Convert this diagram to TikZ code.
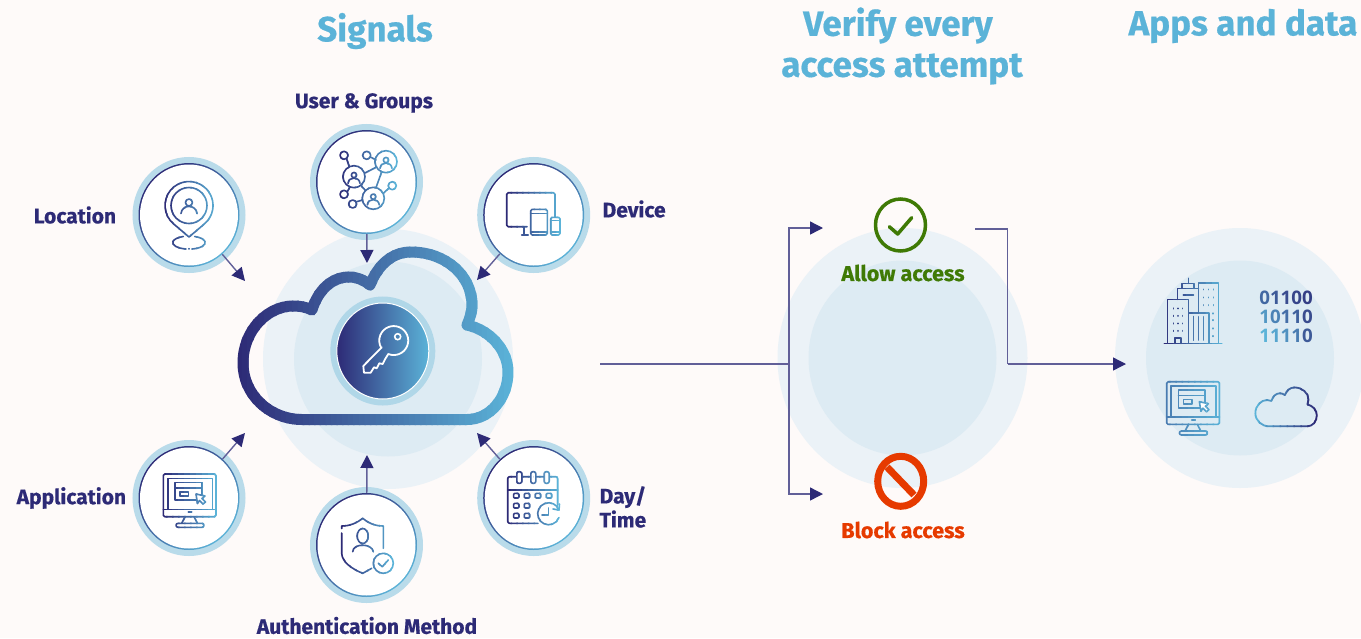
\documentclass[tikz,border=0pt]{standalone}
\usepackage{fontspec}
\setmainfont{Fira Sans}[BoldFeatures={FakeBold=0.5}]
\newfontfamily\digitfont{Open Sans}
\usetikzlibrary{positioning,shapes.geometric,arrows.meta}

\definecolor{pagebg}{HTML}{FEFAF9}
\definecolor{navy}{HTML}{2D2A76}
\definecolor{sky}{HTML}{5BB3D8}
\definecolor{ringblue}{HTML}{B9DBEA}
\definecolor{haloA}{HTML}{EBF2F7}
\definecolor{haloB}{HTML}{DDEBF3}
\definecolor{okgreen}{HTML}{3F7A05}
\definecolor{stopred}{HTML}{E63A00}

% draws #6 in vertical strips, colour going from #4 to #5 between x=#1 and x=#2
\newcommand{\gradstrips}[6]{%
    \foreach \stripno in {1,...,#3}{%
        \pgfmathsetmacro{\stripmix}{100*(\stripno-1)/(#3-1)}%
        \begin{scope}[color=#5!\stripmix!#4]
            \clip ({#1+(\stripno-1)*(#2-#1)/#3},0) rectangle ({#1+\stripno*(#2-#1)/#3+1.5},638);
            #6
        \end{scope}
    }%
}
\newcommand{\cloudline}{%
    (302,419.5) .. controls (270,419.5) and (243,395) .. (243,363)
    .. controls (243,330) and (268,306) .. (293,306)
    .. controls (300,306) and (306,307) .. (312,310)
    .. controls (318,290) and (332,277) .. (349,277)
    .. controls (357,277) and (364,280) .. (370,285)
    .. controls (378,265) and (392,252) .. (411,252)
    .. controls (445,252) and (472,275) .. (472,305)
    .. controls (472,312) and (470,318) .. (467,325)
    .. controls (490,330) and (508,350) .. (508,372)
    .. controls (508,398) and (490,419.5) .. (467,419.5) -- cycle}
\newcommand{\personmark}[3]{%
    \begin{scope}[shift={(#1,#2)},scale=#3]
        \draw (0,-3.5) circle (3.5);
        \draw (-8,7.5) .. controls (-7,-2) and (7,-2) .. (8,7.5);
    \end{scope}}
\newcommand{\screenicon}{%
    \draw[rounded corners=1.5] (163.3,474) rectangle (216,516.7);
    \draw (167.7,509.3) -- (167.7,478.3) -- (212.3,478.3) -- (212.3,509.3);
    \draw (163.3,509.3) -- (216,509.3);
    \draw (175,482.3) rectangle (201.7,500);
    \draw (175,487.7) -- (201.7,487.7);
    \draw (180,491.7) rectangle (188.3,496);
    \draw[fill=white] (196,494) -- (205,496) -- (202,498.5) -- (205.5,502) -- (203,504) -- (199.5,500.5) -- (197.5,503.5) -- cycle;
    \draw (188.3,512) -- (191.7,512);
    \draw (185,516.7) -- (181.7,523.3) (194,516.7) -- (197.3,523.3);
    \draw[rounded corners=2] (176,523.3) rectangle (204,527.3);}
\newcommand{\bitcol}[2]{\textcolor{sky!#1!navy}{#2}}

\begin{document}
\begin{tikzpicture}[
        x=1pt,y=1pt,yscale=-1,
        ring/.style={
                ellipse,
                inner sep=0pt,
                minimum width=101pt,
                minimum height=104pt,
                left color=navy,
                right color=sky,
                shading angle=45,
                preaction={draw=ringblue,line width=12pt},
                path picture={\fill[white] (path picture bounding box.center) ellipse (49 and 50.5);}
            },
        haloOuter/.style={ellipse,fill=haloA,minimum width=250pt,minimum height=260pt,inner sep=0pt},
        haloInner/.style={ellipse,fill=haloB,minimum width=188pt,minimum height=195pt,inner sep=0pt},
        keydisk/.style={
                ellipse,
                inner sep=0pt,
                minimum width=92pt,
                minimum height=96pt,
                left color=navy,
                right color=sky,
                draw=white,
                line width=1pt,
                preaction={draw=ringblue!90!sky,line width=13pt}
            },
        flow/.style={
                draw=navy!75,
                line width=1.4pt,
                -{Triangle[length=13pt,width=13pt,color=navy,fill=navy]}
            },
        wire/.style={draw=navy!75,line width=1.4pt},
        icon/.style={line width=1.6pt,line join=round,line cap=round},
        tag/.style={text=navy,font=\bfseries\fontsize{21}{24}\selectfont,align=center,inner sep=0pt},
        statetext/.style={font=\bfseries\fontsize{21.5}{24}\selectfont,inner sep=0pt},
        heading/.style={text=sky,font=\bfseries\fontsize{35}{41}\selectfont,align=center,inner sep=0pt},
        bits/.style={font=\digitfont\bfseries\fontsize{18.7}{20}\selectfont,inner sep=0pt}
    ]
    \useasboundingbox[fill=pagebg] (0,0) rectangle (1361,638);

    \node[heading] (signals) at (375,31) {Signals};
    \node[heading] (verify) at (902,46) {Verify every\hspace*{8pt}\\access attempt};
    \node[heading] (apps) at (1243,26) {Apps and data};

    \node[haloOuter] (signalsOuter) at (388,359) {};
    \node[haloInner] (signalsInner) at (388,359) {};
    \node[haloOuter] (verifyOuter) at (902.5,358) {};
    \node[haloInner] (verifyInner) at (902.5,358) {};
    \node[haloOuter] (appsOuter) at (1240,358) {};
    \node[haloInner] (appsInner) at (1240,358) {};

    % big cloud
    \gradstrips{236}{515}{50}{navy}{sky}{\draw[line width=11pt,line join=round] \cloudline;}

    \node[keydisk] (key) at (382.8,351) {};
    \draw[white,line width=1.8pt,line join=round] (381.7,347.3) -- (363.3,366) -- (364,372.7) -- (370.7,372.7) -- (374,367.3) -- (376.7,368.3) -- (379.3,363.3) -- (382.7,364) -- (385,359.3) -- (388.3,354) arc (112:-211:14.5) -- cycle;
    \draw[white,line width=1.6pt] (397.7,336.7) circle (3);

    \node[ring] (location) at (189,215) {};
    \node[ring] (user) at (366.5,182) {};
    \node[ring] (device) at (533.7,215) {};
    \node[ring] (application) at (189,498) {};
    \node[ring] (auth) at (366.5,545) {};
    \node[ring] (daytime) at (533.7,498) {};

    \node[tag] (locationText) [left=22pt of location] {Location};
    \node[tag] (userText) at (364,103) {User \& Groups};
    \node[tag] (deviceText) [right=18pt of device,yshift=6pt] {Device};
    \node[tag] (applicationText) [left=12pt of application] {Application};
    \node[tag] (authText) at (367,625.5) {Authentication Method};
    \node[tag] (daytimeText) [right=15pt of daytime,yshift=-9pt] {Day/\\Time};

    \coordinate (locationTip) at (245,281);
    \coordinate (userTip) at (367,263);
    \coordinate (deviceTip) at (477,280);
    \coordinate (applicationTip) at (245,433);
    \coordinate (authTip) at (367,455);
    \coordinate (daytimeTip) at (477,433);
    \draw[flow] (location) -- (locationTip);
    \draw[flow] (user) -- (userTip);
    \draw[flow] (device) -- (deviceTip);
    \draw[flow] (application) -- (applicationTip);
    \draw[flow] (auth) -- (authTip);
    \draw[flow] (daytime) -- (daytimeTip);

    % location
    \gradstrips{160}{220}{10}{navy}{sky}{
        \begin{scope}[icon]
            \draw (189,237) -- (173.6,223.9) arc (130:410:24) -- cycle;
            \draw (189,205.5) circle (18);
            \personmark{189}{206}{1}
            \draw (186,249) arc (100:250:16 and 6.5);
            \draw (192,249) arc (80:-70:16 and 6.5);
            \draw (189,248.6) -- (189,249);
        \end{scope}}

    % user and groups
    \gradstrips{335}{400}{10}{navy}{sky}{
        \begin{scope}[icon]
            \foreach \hx/\hy in {344/155.3,366.7/155.3,392.3/185.7,344/194.3,352.7/204}{
                \draw (\hx,\hy) circle (4);
            }
            \foreach \hx/\hy in {386/161.7,354/176.7,373.3/198.3}{
                \draw (\hx,\hy) circle (11);
                \personmark{\hx}{\hy+1}{0.75}
            }
            \draw (346.5,158.5) -- (349,166) (370.5,157) -- (376,160) (365,173) -- (376.6,167);
            \draw (361,185.5) -- (365.5,190.5) (381.7,171.7) -- (376,187.7) (383.3,193.3) -- (388.7,188.3);
            \draw (347.3,191.5) -- (350,187) (356.7,201.7) -- (362.5,200);
        \end{scope}}

    % device
    \gradstrips{505}{562}{10}{navy}{sky}{
        \begin{scope}[icon]
            \draw[rounded corners=1.5] (527,226.7) -- (506.7,226.7) -- (506.7,192.7) -- (555,192.7) -- (555,216.7);
            \draw (524,226.7) -- (524,235) (521.7,235) -- (528,235);
            \draw[rounded corners=1.5] (530.7,209.3) rectangle (547.3,235);
            \draw (530.7,213.3) -- (547.3,213.3) (530.7,231.7) -- (547.3,231.7);
            \draw[rounded corners=1.5] (550.7,217.3) rectangle (560,235);
            \draw (550.7,220.5) -- (560,220.5) (550.7,231.7) -- (560,231.7);
        \end{scope}}

    % application
    \gradstrips{160}{220}{10}{navy}{sky}{
        \begin{scope}[icon]
            \screenicon
        \end{scope}}

    % authentication
    \gradstrips{338}{396}{10}{navy}{sky}{
        \begin{scope}[icon]
            \draw (341.7,533) -- (341.7,553.3) .. controls (342,562) and (352,569) .. (362.7,573.3) -- (371.7,568.3);
            \draw (341.7,528.5) -- (341.7,526) .. controls (350,526) and (357,523) .. (362.7,518.3) .. controls (368,523) and (375,526) .. (383.3,526) -- (383.3,548.3);
            \draw (362.7,536) ellipse (5.5 and 7.5);
            \draw (352.7,551.7) .. controls (353,543) and (372,543) .. (373.3,551.7);
            \draw (383.3,563.3) circle (10);
            \draw (378.3,563.3) -- (382.3,566.7) -- (388.3,560);
        \end{scope}}

    % calendar
    \gradstrips{505}{562}{10}{navy}{sky}{
        \begin{scope}[icon]
            \draw[rounded corners=2] (538,523.3) -- (507.7,523.3) -- (507.7,476.7) -- (557.7,476.7) -- (557.7,505);
            \draw (507.7,490) -- (557.7,490);
            \foreach \kx in {519.3,533.3,546.7}{
                \draw[fill=white,rounded corners=2] (\kx-2.5,471.7) rectangle (\kx+2.5,483.3);
            }
            \foreach \kx/\ky in {516.3/495.7,527/495.7,538/495.7,549/495.7,516.3/505.7,527/505.7,516.3/515.7,527/515.7}{
                \draw[rounded corners=1] (\kx-2.7,\ky-2.3) rectangle (\kx+2.7,\ky+2.3);
            }
            \draw (559,510) arc (-20:-340:11);
            \draw (559.5,504) -- (559,510) -- (553,509);
            \draw (548.3,508) -- (548.3,515) -- (542,515);
        \end{scope}}

    % verify
    \node[ellipse,draw=okgreen,line width=3.5pt,minimum width=50pt,minimum height=52pt,inner sep=0pt] (allow) at (900.5,225) {};
    \draw[okgreen,line width=3.5pt,line cap=round,line join=round] (889.3,226.7) -- (897.7,234) -- (911.7,217.7);
    \node[statetext,text=okgreen] (allowText) at (903,273) {Allow access};
    \node[ellipse,draw=stopred,line width=7pt,minimum width=46pt,minimum height=50pt,inner sep=0pt] (block) at (900.7,481.3) {};
    \draw[stopred,line width=7pt] (887,467) -- (914,495);
    \node[statetext,text=stopred] (blockText) at (903,530) {Block access};

    \coordinate (verifyIn) at (600,364);
    \coordinate (split) at (789,364);
    \coordinate (allowTip) at (823,228);
    \coordinate (blockTip) at (823,494);
    \coordinate (allowOut) at (975,229);
    \coordinate (outTurn) at (1007.5,364);
    \coordinate (appsTip) at (1126,364);
    \draw[wire] (verifyIn) -- (split);
    \draw[flow] (split) |- (allowTip);
    \draw[flow] (split) |- (blockTip);
    \draw[wire] (allowOut) -| (outTurn);
    \draw[flow] (outTurn) -- (appsTip);

    % apps and data
    \gradstrips{1160}{1225}{10}{navy}{sky}{
        \begin{scope}[icon]
            \draw (1164.3,343.3) -- (1221.7,343.3);
            \draw (1167.3,343.3) rectangle (1188.3,299.3);
            \draw (1188.3,343.3) rectangle (1209,312.7);
            \draw (1198.3,312.7) -- (1198.3,282.7) -- (1218.3,282.7) -- (1218.3,343.3) -- (1209,343.3);
            \draw (1177.3,299.3) -- (1177.3,288.3) -- (1198.3,288.3);
            \draw (1181.7,288.3) -- (1181.7,283.3) -- (1194,283.3) -- (1194,288.3) (1188.3,283.3) -- (1188.3,278.3);
            \draw (1183.3,295) -- (1193.3,295);
            \foreach \wx in {1193.3,1198.3,1203.3}{
                \draw (\wx,316.7) -- (\wx,340);
            }
            \foreach \wx in {1173.3,1177.8,1182.3}{
                \foreach \wy in {308.3,315.7,323.3,330.7}{
                    \draw (\wx,\wy) -- (\wx,\wy+0.3);
                }
            }
            \foreach \wx in {1203.3,1208.3,1213.3}{
                \foreach \wy in {289.3,297.3,305}{
                    \draw (\wx,\wy) -- (\wx,\wy+0.3);
                }
            }
            \foreach \wy in {313.3,320,328.3,336}{
                \draw (1213,\wy) -- (1213,\wy+0.3);
            }
            \draw (1175,343.3) -- (1175,338) -- (1181,338) -- (1181,343.3);
        \end{scope}}
    \gradstrips{1163}{1225}{10}{navy!40!sky}{sky}{
        \begin{scope}[icon,shift={(1003.4,-92.3)}]
            \screenicon
        \end{scope}}
    \gradstrips{1252}{1321}{10}{sky}{navy}{
        \begin{scope}[shift={(1199,329)},scale=0.232]
            \draw[line width=1.8pt,line join=round] \cloudline;
        \end{scope}}
    \node[bits] (bitsA) at (1286,297.5) {\bitcol{45}{0}\bitcol{35}{1}\bitcol{25}{1}\bitcol{20}{0}\bitcol{15}{0}};
    \node[bits] (bitsB) at (1286,316.7) {\bitcol{80}{1}\bitcol{65}{0}\bitcol{50}{1}\bitcol{40}{1}\bitcol{25}{0}};
    \node[bits] (bitsC) at (1286,336.2) {\bitcol{100}{1}\bitcol{90}{1}\bitcol{75}{1}\bitcol{60}{1}\bitcol{35}{0}};
\end{tikzpicture}
\end{document}
